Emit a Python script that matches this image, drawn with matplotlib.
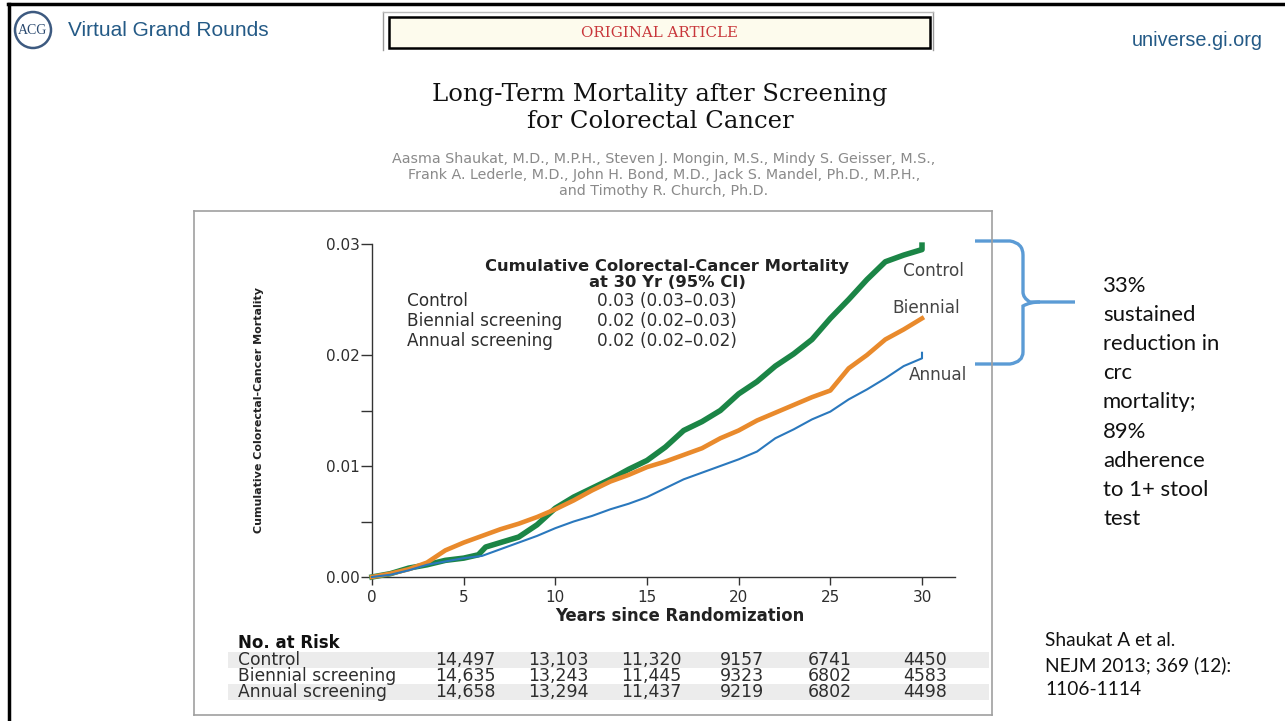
import matplotlib
matplotlib.use("Agg")
import matplotlib.pyplot as plt
from matplotlib.lines import Line2D
from matplotlib.patches import Rectangle, Ellipse, PathPatch
from matplotlib.path import Path

W, H = 1285, 721

# --- data ---
ctrl_t = [0, 1, 2, 3, 4, 5, 5.8, 6.2, 7, 8, 9, 10, 11, 12, 13, 14, 15, 16, 17, 18,
          19, 20, 21, 22, 23, 24, 25, 26, 27, 28, 29, 30, 30]
ctrl_y = [0, 0.0003, 0.0008, 0.0011, 0.0015, 0.0017, 0.0020, 0.0027, 0.0031, 0.0036,
          0.0047, 0.0062, 0.0072, 0.0080, 0.0088, 0.0097, 0.0105, 0.0117, 0.0132, 0.0140,
          0.0150, 0.0165, 0.0176, 0.0190, 0.0201, 0.0214, 0.0233, 0.0250, 0.0268, 0.0284,
          0.0290, 0.0295, 0.0299]

bien_t = [0, 1, 2, 3, 4, 5, 6, 7, 8, 9, 10, 11, 12, 13, 14, 15, 16, 17, 18, 19, 20,
          21, 22, 23, 24, 25, 26, 27, 28, 29, 30]
bien_y = [0, 0.0003, 0.0007, 0.0013, 0.0024, 0.0031, 0.0037, 0.0043, 0.0048, 0.0054,
          0.0061, 0.0069, 0.0078, 0.0086, 0.0092, 0.0099, 0.0104, 0.0110, 0.0116, 0.0125,
          0.0132, 0.0141, 0.0148, 0.0155, 0.0162, 0.0168, 0.0188, 0.0200, 0.0214, 0.0223,
          0.0233]

ann_t = [0, 1, 2, 3, 4, 5, 6, 7, 8, 9, 10, 11, 12, 13, 14, 15, 16, 17, 18, 19, 20,
         21, 22, 23, 24, 25, 26, 27, 28, 29, 30, 30]
ann_y = [0, 0.0002, 0.0006, 0.0011, 0.0014, 0.0017, 0.0019, 0.0025, 0.0031, 0.0037,
         0.0044, 0.0050, 0.0055, 0.0061, 0.0066, 0.0072, 0.0080, 0.0088, 0.0094, 0.0100,
         0.0106, 0.0113, 0.0125, 0.0133, 0.0142, 0.0149, 0.0160, 0.0169, 0.0179, 0.0190,
         0.0197, 0.0202]

x_ticks = [0, 5, 10, 15, 20, 25, 30]
y_major = [0.0, 0.01, 0.02, 0.03]
y_minor = [0.005, 0.015]

end_labels = ["Control", "Biennial", "Annual"]

inset_rows = ["Control", "Biennial screening", "Annual screening"]
inset_vals = ["0.03 (0.03\u20130.03)", "0.02 (0.02\u20130.03)", "0.02 (0.02\u20130.02)"]

risk_groups = ["Control", "Biennial screening", "Annual screening"]
risk_counts = [
    ["14,497", "13,103", "11,320", "9157", "6741", "4450"],
    ["14,635", "13,243", "11,445", "9323", "6802", "4583"],
    ["14,658", "13,294", "11,437", "9219", "6802", "4498"],
]

authors = ["Aasma Shaukat, M.D., M.P.H., Steven J. Mongin, M.S., Mindy S. Geisser, M.S.,",
           "Frank A. Lederle, M.D., John H. Bond, M.D., Jack S. Mandel, Ph.D., M.P.H.,",
           "and Timothy R. Church, Ph.D."]

note = "33%\nsustained\nreduction in\ncrc\nmortality;\n89%\nadherence\nto 1+ stool\ntest"
cite = "Shaukat A et al.\nNEJM 2013; 369 (12):\n1106-1114"

GREEN = "#1b8546"
ORANGE = "#e98a2c"
BLUE = "#2a78bd"
SLIDE_BLUE = "#245a86"
BRACE = "#5b9bd5"
INK = "#2e2e2e"
CF = "DejaVu Sans"


def fx(x):
    return x / W


def fy(y):
    return 1 - y / H


fig = plt.figure(figsize=(W / 100, H / 100), dpi=100)
fig.patch.set_facecolor("white")


def hline(x0, x1, y, **kw):
    fig.add_artist(Line2D([fx(x0), fx(x1)], [fy(y), fy(y)], transform=fig.transFigure, **kw))


def vline(x, y0, y1, **kw):
    fig.add_artist(Line2D([fx(x), fx(x)], [fy(y0), fy(y1)], transform=fig.transFigure, **kw))


def txt(x, y, s, **kw):
    fig.text(fx(x), fy(y), s, **kw)


# --- slide frame and header ---
hline(8, W, 4, color="black", lw=2.5)
vline(9, 4, H, color="black", lw=2.5)

fig.add_artist(Ellipse((fx(33), fy(30)), 36 / W, 36 / H, transform=fig.transFigure,
                       facecolor="white", edgecolor="#3d5a80", lw=1.8))
txt(33, 31, "ACG", ha="center", va="center", fontsize=10, color="#2b4a70",
    family="Liberation Serif")
txt(68, 30, "Virtual Grand Rounds", ha="left", va="center", fontsize=15,
    color=SLIDE_BLUE, family="Liberation Sans")
txt(1263, 40, "universe.gi.org", ha="right", va="center", fontsize=14.3,
    color=SLIDE_BLUE, family="Liberation Sans")

# ORIGINAL ARTICLE banner
vline(383, 12, 50, color="#999999", lw=1)
vline(933, 12, 50, color="#999999", lw=1)
hline(383, 933, 12, color="#bbbbbb", lw=1)
fig.add_artist(Rectangle((fx(389), fy(48)), fx(930) - fx(389), fy(17) - fy(48),
                         transform=fig.transFigure, facecolor="#fdfbed",
                         edgecolor="black", lw=1.8))
txt(660, 33, "ORIGINAL ARTICLE", ha="center", va="center", fontsize=10.8,
    color="#c8363a", family="DejaVu Serif")

txt(660, 94, "Long-Term Mortality after Screening", ha="center", va="center",
    fontsize=17.5, family="DejaVu Serif", color="#111111")
txt(660, 121, "for Colorectal Cancer", ha="center", va="center",
    fontsize=17.5, family="DejaVu Serif", color="#111111")
for i, line in enumerate(authors):
    txt(664, 159 + 16 * i, line, ha="center", va="center", fontsize=10.3,
        color="#8a8a8a", family=CF)

# figure panel border
hline(194, 992, 211, color="#a0a0a0", lw=1.2)
vline(194, 211, 715, color="#a0a0a0", lw=1.2)
vline(992, 211, 715, color="#a0a0a0", lw=1.2)
hline(194, 992, 715, color="#a0a0a0", lw=1.2)

# --- the chart ---
ax_l, ax_r, ax_b, ax_t = 372, 955, 577, 244
ax = fig.add_axes([fx(ax_l), fy(ax_b), fx(ax_r) - fx(ax_l), fy(ax_t) - fy(ax_b)])
ax.set_xlim(0, 30 * (ax_r - ax_l) / (922 - ax_l))
ax.set_ylim(0, 0.03)
ax.patch.set_alpha(0)

ax.plot(ctrl_t, ctrl_y, color=GREEN, lw=4.0, clip_on=False, zorder=3)
ax.plot(bien_t, bien_y, color=ORANGE, lw=3.3, clip_on=False, zorder=4)
ax.plot(ann_t, ann_y, color=BLUE, lw=1.5, clip_on=False, zorder=5)

for s in ["top", "right"]:
    ax.spines[s].set_visible(False)
for s in ["left", "bottom"]:
    ax.spines[s].set_color("#333333")
    ax.spines[s].set_linewidth(1.0)
ax.spines["bottom"].set_bounds(-0.1, ax.get_xlim()[1])

ax.set_xticks(x_ticks)
ax.set_xticklabels([str(t) for t in x_ticks], fontsize=11, color=INK, family=CF)
ax.set_yticks(y_major)
ax.set_yticklabels([f"{v:.2f}" for v in y_major], fontsize=11, color=INK, family=CF)
ax.set_yticks(y_minor, minor=True)
ax.tick_params(axis="y", which="both", direction="out", length=8, width=1, color="#333333", pad=1)
ax.tick_params(axis="x", direction="out", length=6, width=1, color="#333333", pad=3)

# axis titles
txt(680, 616, "Years since Randomization", ha="center", va="center", fontsize=11.9,
    fontweight="bold", family=CF, color="#222222")
txt(259, 410, "Cumulative Colorectal-Cancer Mortality", rotation=90, ha="center",
    va="center", fontsize=8, fontweight="bold", color="#222222", family=CF)

# inset summary
txt(667, 266, "Cumulative Colorectal-Cancer Mortality", ha="center", va="center",
    fontsize=11.8, fontweight="bold", family=CF, color="#222222")
txt(667, 282, "at 30 Yr (95% CI)", ha="center", va="center",
    fontsize=11.8, fontweight="bold", family=CF, color="#222222")
for i, (r, v) in enumerate(zip(inset_rows, inset_vals)):
    txt(407, 301 + 20 * i, r, ha="left", va="center", fontsize=12.2, family=CF, color=INK)
    txt(597, 301 + 20 * i, v, ha="left", va="center", fontsize=12.2, family=CF, color=INK)

# end-of-curve labels
ax.text(28.97, 0.02757, end_labels[0], ha="left", va="center", fontsize=12.2,
        family=CF, color="#444444")
ax.text(28.37, 0.02423, end_labels[1], ha="left", va="center", fontsize=12.2,
        family=CF, color="#444444")
ax.text(29.3, 0.0182, end_labels[2], ha="left", va="center", fontsize=12.2,
        family=CF, color="#444444")

# number at risk table
txt(238, 643, "No. at Risk", ha="left", va="center", fontsize=12, fontweight="bold",
    family=CF, color="#111111")
col_x = [435, 528, 621, 720, 808, 903]
for i, (g, row) in enumerate(zip(risk_groups, risk_counts)):
    yy = 660 + 16 * i
    if i != 1:
        fig.add_artist(Rectangle((fx(228), fy(yy + 8)), fx(989) - fx(228), fy(yy - 8) - fy(yy + 8),
                                 transform=fig.transFigure, facecolor="#ececec",
                                 edgecolor="none", zorder=0))
    txt(238, yy, g, ha="left", va="center", fontsize=12.3, family=CF, color=INK)
    for x, c in zip(col_x, row):
        txt(x, yy, c, ha="left", va="center", fontsize=12.5, family=CF, color=INK)

# --- brace and side notes ---
verts = [(975, 241), (1010, 241), (1023, 243), (1023, 255),
         (1023, 292), (1023, 298), (1030, 302), (1040, 302),
         (1075, 302)]
codes = [Path.MOVETO, Path.LINETO, Path.CURVE3, Path.CURVE3,
         Path.LINETO, Path.CURVE3, Path.CURVE3, Path.CURVE3, Path.LINETO]
verts2 = [(1040, 302), (1030, 302), (1023, 306), (1023, 313),
          (1023, 352), (1023, 362), (1010, 364), (975, 364)]
codes2 = [Path.MOVETO, Path.CURVE3, Path.CURVE3, Path.LINETO,
          Path.LINETO, Path.CURVE3, Path.CURVE3, Path.LINETO]
for vv, cc in [(verts, codes), (verts2, codes2)]:
    p = Path([(fx(a), fy(b)) for a, b in vv], cc)
    fig.add_artist(PathPatch(p, transform=fig.transFigure, facecolor="none",
                             edgecolor=BRACE, lw=2.4, capstyle="butt"))

txt(1103, 276, note, ha="left", va="top", fontsize=15.9, linespacing=1.57,
    family=["Lato", "DejaVu Sans"], color="#111111")
txt(1045, 632, cite, ha="left", va="top", fontsize=13.8, linespacing=1.5,
    family=["Lato", "DejaVu Sans"], color="#111111")

fig.savefig("out.png", dpi=100, facecolor="white")
